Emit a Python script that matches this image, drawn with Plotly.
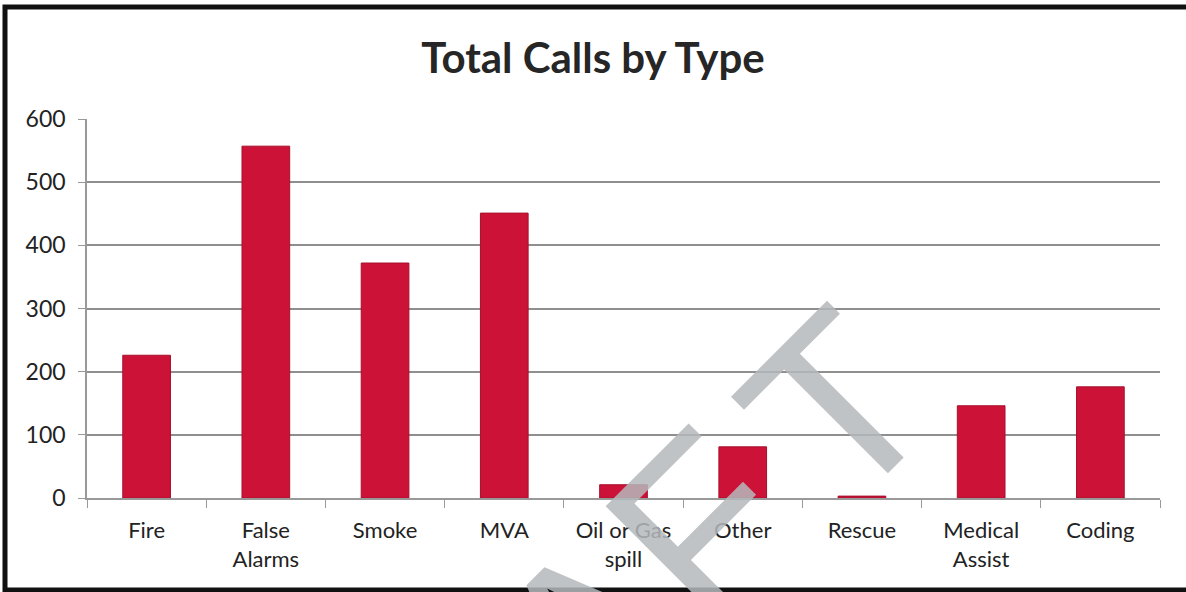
import plotly.graph_objects as go

call_types = ["Fire", "False<br>Alarms", "Smoke", "MVA", "Oil or Gas<br>spill",
              "Other", "Rescue", "Medical<br>Assist", "Coding"]
total_calls = [226, 557, 372, 451, 21, 81, 3, 146, 176]
y_ticks = [0, 100, 200, 300, 400, 500, 600]

W, H = 1186, 592
L, R, T, B = 87, 26, 119, 94
pw, ph = W - L - R, H - T - B


def px_x(x):
    return (x - L) / pw


def px_y(y):
    return (H - B - y) / ph


fig = go.Figure()
fig.add_trace(go.Bar(
    x=call_types, y=total_calls,
    marker=dict(color="#CC1236", line=dict(color="#A80F2C", width=1)),
))

# DRAFT watermark stamped across the scan (letters are spread wide, so two pieces)
wm_font = dict(family="Liberation Sans", size=240, color="rgba(180,184,188,0.85)")
watermark = [
    dict(text="DRAF", x=px_x(522), y=px_y(706)),
    dict(text="T", x=px_x(837), y=px_y(407)),
]
for w in watermark:
    w.update(xref="paper", yref="paper", xanchor="center", yanchor="middle",
             showarrow=False, textangle=-45, font=wm_font)

fig.update_layout(
    width=W, height=H,
    margin=dict(l=L, r=R, t=T, b=B),
    paper_bgcolor="white", plot_bgcolor="white",
    bargap=0.6,
    showlegend=False,
    font=dict(family="Lato, Open Sans, sans-serif", color="#222222"),
    title=dict(text="<b>Total Calls by Type</b>", x=0.5, xanchor="center",
               y=1 - 58 / H, yanchor="middle",
               font=dict(size=42, color="#262626")),
    xaxis=dict(
        tickson="boundaries", ticks="outside", ticklen=8, tickcolor="#999999",
        showline=True, linecolor="#999999", linewidth=1.5,
        tickfont=dict(size=22, color="#222222"),
        ticklabelstandoff=12,
    ),
    yaxis=dict(
        range=[0, 600], tickvals=y_ticks, ticks="outside", ticklen=7,
        tickcolor="#999999", showline=True, linecolor="#999999", linewidth=1.5,
        gridcolor="#8f8f8f", gridwidth=1.5, zeroline=False,
        tickfont=dict(size=23, color="#222222"),
        ticklabelstandoff=8,
    ),
    shapes=[dict(type="rect", xref="paper", yref="paper",
                 x0=px_x(5), x1=px_x(1215), y0=px_y(590), y1=px_y(7),
                 line=dict(color="#111111", width=5))],
    annotations=watermark,
)

fig.write_html("out.html", config={"displayModeBar": False},
               post_script="document.body.style.margin='0';")
